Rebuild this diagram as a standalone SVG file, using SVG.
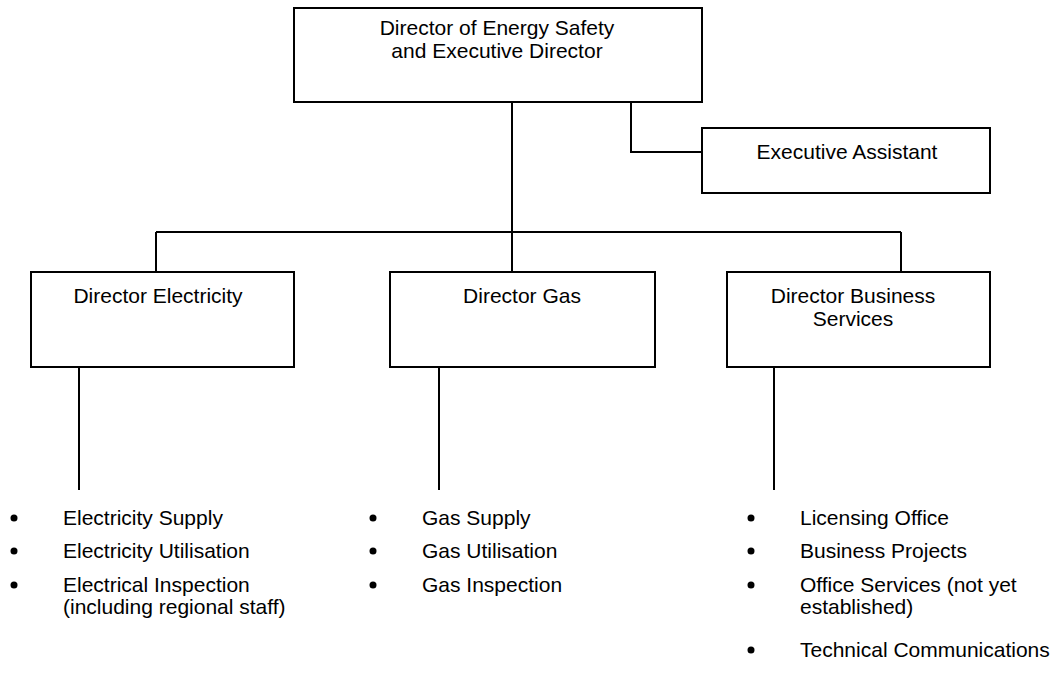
<svg xmlns="http://www.w3.org/2000/svg" width="1058" height="680" viewBox="0 0 1058 680">
<style>
.box{fill:#fff;stroke:#000;stroke-width:2}
.ln{fill:none;stroke:#000;stroke-width:2}
text{font-family:"Liberation Sans",Arial,sans-serif;font-size:21px;fill:#000}
.c{text-anchor:middle}
</style>
<rect width="1058" height="680" fill="#fff"/>
<g id="connectors">
<path class="ln" d="M512,102 V232 M156,232 H901 M156,232 V272 M512,232 V272 M901,232 V272"/>
<path class="ln" d="M631,102 V152 H702"/>
<path class="ln" d="M79,367 V490 M439,367 V490 M774,367 V490"/>
</g>
<g id="director">
<rect class="box" x="294" y="8" width="408" height="94"/>
<text class="c" x="497" y="35">Director of Energy Safety</text>
<text class="c" x="497" y="58">and Executive Director</text>
</g>
<g id="assistant">
<rect class="box" x="702" y="128" width="288" height="65"/>
<text class="c" x="847" y="159">Executive Assistant</text>
</g>
<g id="electricity">
<rect class="box" x="31" y="272" width="263" height="95"/>
<text class="c" x="158" y="303">Director Electricity</text>
</g>
<g id="gas">
<rect class="box" x="390" y="272" width="265" height="95"/>
<text class="c" x="522" y="303">Director Gas</text>
</g>
<g id="business">
<rect class="box" x="727" y="272" width="263" height="95"/>
<text class="c" x="853" y="303">Director Business</text>
<text class="c" x="853" y="326">Services</text>
</g>
<g id="electricity-list">
<circle cx="14" cy="518" r="3.5"/><text x="63" y="525">Electricity Supply</text>
<circle cx="14" cy="551" r="3.5"/><text x="63" y="558">Electricity Utilisation</text>
<circle cx="14" cy="585" r="3.5"/><text x="63" y="592">Electrical Inspection</text>
<text x="63" y="614">(including regional staff)</text>
</g>
<g id="gas-list">
<circle cx="373" cy="518" r="3.5"/><text x="422" y="525">Gas Supply</text>
<circle cx="373" cy="551" r="3.5"/><text x="422" y="558">Gas Utilisation</text>
<circle cx="373" cy="585" r="3.5"/><text x="422" y="592">Gas Inspection</text>
</g>
<g id="business-list">
<circle cx="751" cy="518" r="3.5"/><text x="800" y="525">Licensing Office</text>
<circle cx="751" cy="551" r="3.5"/><text x="800" y="558">Business Projects</text>
<circle cx="751" cy="585" r="3.5"/><text x="800" y="592">Office Services (not yet</text>
<text x="800" y="614">established)</text>
<circle cx="751" cy="650" r="3.5"/><text x="800" y="657">Technical Communications</text>
</g>
</svg>
